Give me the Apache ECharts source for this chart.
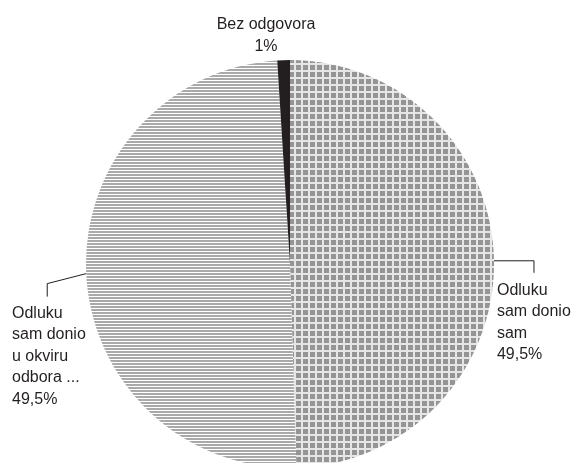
<!DOCTYPE html>
<html><head><meta charset="utf-8">
<script src="https://cdn.jsdelivr.net/npm/echarts@6/dist/echarts.min.js"></script>
<style>html,body{margin:0;padding:0;background:#fff}#c{width:571px;height:463px}</style>
</head><body><div id="c"></div>
<script>
const categories = ['Odluku\nsam donio\nsam', 'Odluku\nsam donio\nu okviru\nodbora ...', 'Bez odgovora'];
const values = [49.5, 49.5, 1];
const valueLabels = ['49,5%', '49,5%', '1%'];

function gridPattern(){
  const c=document.createElement('canvas');c.width=7;c.height=7;
  const g=c.getContext('2d');
  g.fillStyle='#e6e6e6';g.fillRect(0,0,7,7);
  g.fillStyle='#959595';g.fillRect(2,2,5,5);
  return c;
}
function stripePattern(){
  const c=document.createElement('canvas');c.width=4;c.height=3;
  const g=c.getContext('2d');
  g.fillStyle='#ffffff';g.fillRect(0,0,4,3);
  g.fillStyle='#a9a9a9';g.fillRect(0,0,4,2);
  return c;
}
const fills=[{image:gridPattern(),repeat:'repeat'},{image:stripePattern(),repeat:'repeat'},'#231f20'];

const chart=echarts.init(document.getElementById('c'),null,{renderer:'canvas'});
const font='"Liberation Sans", Arial, sans-serif';
chart.setOption({
  animation:false,
  series:[{
    type:'pie',
    center:[290,264],
    radius:[0,204],
    startAngle:90,
    clockwise:true,
    avoidLabelOverlap:false,
    label:{show:true,fontFamily:font,fontSize:16,color:'#231f20',lineHeight:21.5,
      formatter:p=>p.name+'\n'+valueLabels[p.dataIndex]},
    labelLine:{show:true,lineStyle:{color:'#231f20',width:1}},
    labelLayout:function(p){
      const i=p.dataIndex;
      const pts=p.labelLinePoints;
      if(i===0){
        const p0=pts?pts[0]:[494,260];
        return {x:p0[0]+3,y:p0[1]+19,align:'left',verticalAlign:'top',
          labelLinePoints:[p0,[p0[0]+40,p0[1]],[p0[0]+40,p0[1]+12]]};
      } else if(i===1){
        const p0=pts?pts[0]:[84,273];
        return {x:12,y:p0[1]+29,align:'left',verticalAlign:'top',
          labelLinePoints:[p0,[p0[0]-39,p0[1]+10],[p0[0]-39,p0[1]+23]]};
      } else {
        return {x:266,y:14,align:'center',verticalAlign:'top'};
      }
    },
    data:categories.map((n,i)=>({name:n,value:values[i],itemStyle:{color:fills[i]},
      labelLine:{show:i!==2}})),
    itemStyle:{borderWidth:0},
    emphasis:{disabled:true}
  }]
});
</script></body></html>
